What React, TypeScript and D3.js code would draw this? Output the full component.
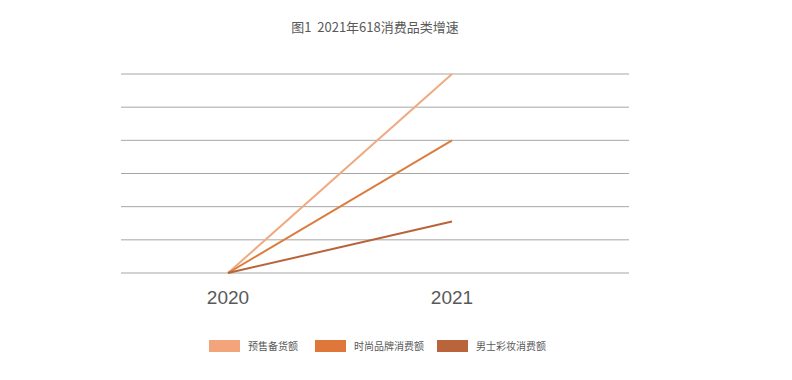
import React from "react";
import * as d3 from "d3";

const categories = ["2020", "2021"];
const seriesNames = ["预售备货额", "时尚品牌消费额", "男士彩妆消费额"];
const series1 = [0, 6];
const series2 = [0, 4];
const series3 = [0, 1.55];
const gridTicks = [0, 1, 2, 3, 4, 5, 6];
const lineColors = ["#EFAA82", "#DC7D40", "#B8643A"];
const swatchColors = ["#F3A47B", "#E0773A", "#B9643A"];
const title = "图1  2021年618消费品类增速";

export default function App() {
  const W = 792, H = 380;
  const x = d3.scalePoint<string>().domain(categories).range([228, 452]);
  const y = d3.scaleLinear().domain([0, 6]).range([273, 74]);
  const allSeries = [series1, series2, series3];
  const line = d3
    .line<number>()
    .x((_, i) => x(categories[i]) as number)
    .y((d) => y(d));
  const font = "'Noto Sans CJK SC', 'Noto Sans', sans-serif";
  const legendX = [209, 315, 437];
  return (
    <svg width={W} height={H} style={{ position: "absolute", left: 0, top: 0, background: "#fff" }}>
      <text x={375} y={32} textAnchor="middle" fontSize={13} fill="#595959" fontFamily={font} style={{ whiteSpace: "pre" }}>
        {title}
      </text>
      {gridTicks.map((t) => (
        <line key={t} x1={121} x2={629} y1={y(t)} y2={y(t)} stroke="#A6A6A6" strokeWidth={1} />
      ))}
      {allSeries.map((s, i) => (
        <path key={i} d={line(s) || ""} fill="none" stroke={lineColors[i]} strokeWidth={2} />
      ))}
      {categories.map((c) => (
        <text key={c} x={x(c)} y={304} textAnchor="middle" fontSize={19} fill="#595959" fontFamily="'Liberation Sans', Arial, sans-serif">
          {c}
        </text>
      ))}
      {seriesNames.map((n, i) => (
        <g key={n}>
          <rect x={legendX[i]} y={340} width={31} height={12} fill={swatchColors[i]} />
          <text x={legendX[i] + 39} y={350} fontSize={10} fill="#595959" fontFamily={font}>
            {n}
          </text>
        </g>
      ))}
    </svg>
  );
}
